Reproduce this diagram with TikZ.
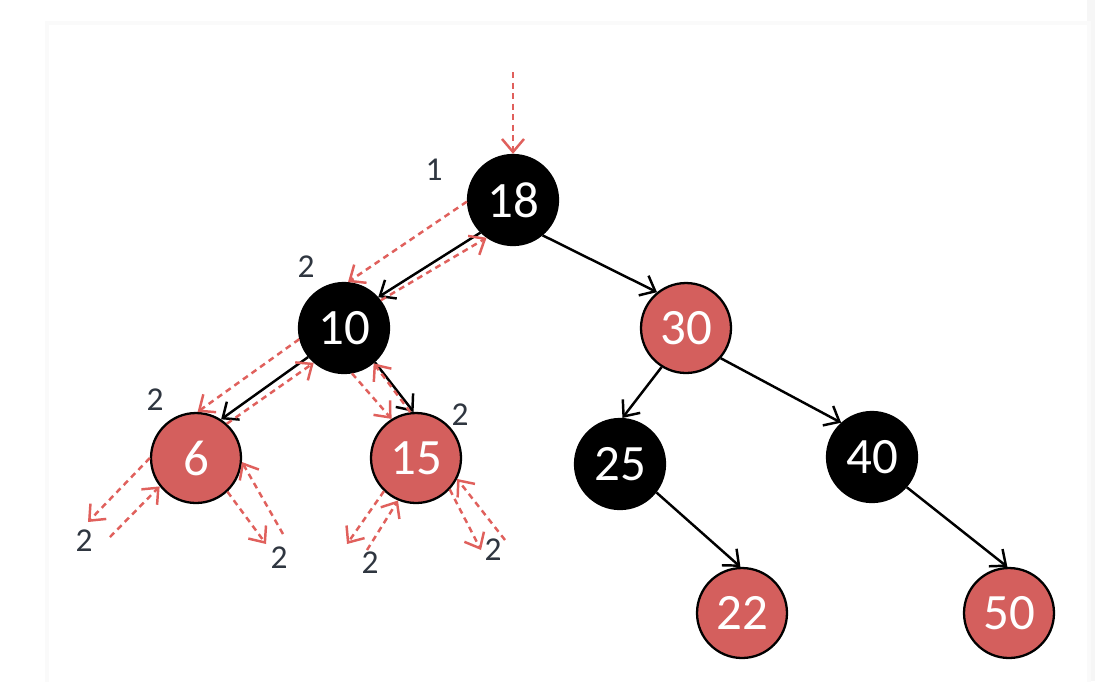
\documentclass[tikz,border=0pt]{standalone}
\usepackage{fontspec}
\setmainfont{Carlito}
\usetikzlibrary{arrows.meta}
\definecolor{nodered}{HTML}{D45F5D}
\definecolor{tracered}{HTML}{E0605C}
\definecolor{labelgray}{HTML}{2F3640}
\begin{document}
\begin{tikzpicture}[
  x=0.02cm, y=-0.02cm,
  vertex/.style={circle, draw=black, line width=1.3pt, minimum size=1.8cm, inner sep=0pt, text=white, font=\fontsize{29}{29}\selectfont},
  blackvertex/.style={vertex, fill=black},
  redvertex/.style={vertex, fill=nodered},
  edge/.style={-{Straight Barb[length=2.6mm, width=4.4mm]}, line width=1.4pt},
  trace/.style={-{Straight Barb[length=2.6mm, width=4.4mm]}, draw=tracered, dash pattern=on 3.4pt off 2.6pt, line width=1.4pt},
  height/.style={text=labelgray, font=\fontsize{19}{19}\selectfont}
]
\useasboundingbox (0,0) rectangle (1095,681);
% card
\fill[white] (0,0) rectangle (1095,681);
\fill[gray!7] (1087,0) rectangle (1095,681);
\draw[gray!4, line width=5pt] (49,25) rectangle (1087,700);
\fill[white] (49,25) rectangle (1087,700);

% tree
\node[blackvertex] (n18) at (513,200) {18};
\node[blackvertex] (n10) at (344,328) {10};
\node[redvertex] (n30) at (686,328) {30};
\node[redvertex] (n6) at (196,458) {6};
\node[redvertex] (n15) at (416,458) {15};
\node[blackvertex] (n25) at (620,464) {25};
\node[blackvertex] (n40) at (872,457) {40};
\node[redvertex] (n22) at (742,613) {22};
\node[redvertex] (n50) at (1009,613) {50};

% black heights
\node[height] (h18) at (434,170) {1};
\node[height] (h10) at (306,267) {2};
\node[height] (h6) at (155,400) {2};
\node[height] (h15) at (460,415) {2};
\node[height] (h6l) at (84,541) {2};
\node[height] (h6r) at (279,558) {2};
\node[height] (h15l) at (370,563) {2};
\node[height] (h15r) at (493,550) {2};

\draw[edge] (n18.225) -- (n10.42);
\draw[edge] (n18.310) -- (n30.129);
\draw[edge] (n10.219) -- (n6.57);
\draw[edge] (n10.312) -- (n15.93);
\draw[edge] (n30.238) -- (n25.87);
\draw[edge] (n30.319) -- (n40.132);
\draw[edge] (n25.322) -- (n22.92);
\draw[edge] (n40.319) -- (n50.92);

% traversal
\coordinate (start) at (513,72);
\coordinate (o6l) at (88,522);
\coordinate (i6l) at (110,537);
\coordinate (o6r) at (266,544);
\coordinate (i6r) at (283,534);
\coordinate (o15l) at (347,544);
\coordinate (i15l) at (367,550);
\coordinate (o15r) at (481,550);
\coordinate (i15r) at (505,540);
\draw[trace] (start) -- (n18.north);
\draw[trace] (n18.182) -- (n10.85);
\draw[trace] (n10.37) -- (n18.235);
\draw[trace] (n10.194) -- (n6.88);
\draw[trace] (n6.48) -- (n10.229);
\draw[trace] (n10.280) -- (n15.122);
\draw[trace] (n15.97) -- (n10.310);
\draw[trace] (n6.180) -- (o6l);
\draw[trace] (i6l) -- (n6.218);
\draw[trace] (n6.313) -- (o6r);
\draw[trace] (i6r) -- (n6.355);
\draw[trace] (n15.226) -- (o15l);
\draw[trace] (i15l) -- (n15.247);
\draw[trace] (n15.317) -- (o15r);
\draw[trace] (i15r) -- (n15.333);
\end{tikzpicture}
\end{document}
